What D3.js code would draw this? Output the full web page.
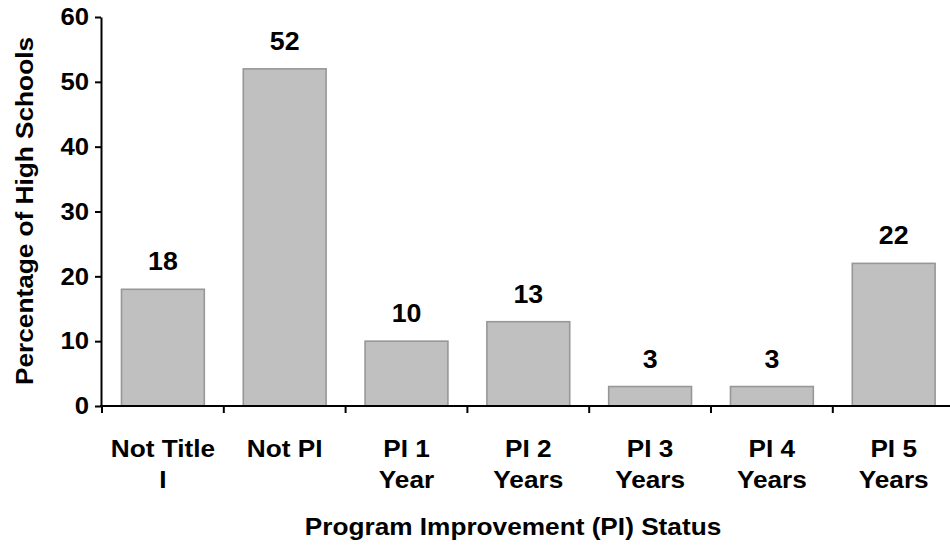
<!DOCTYPE html>
<html>
<head>
<meta charset="utf-8">
<script src="https://cdn.jsdelivr.net/npm/d3@7/dist/d3.min.js"></script>
<style>
  body { margin: 0; background: #fff; }
  svg text { font-family: "Liberation Sans", Arial, sans-serif; font-weight: bold; fill: #000; }
</style>
</head>
<body>
<svg id="chart" width="950" height="548"></svg>
<script>
const categories = [["Not Title", "I"], ["Not PI"], ["PI 1", "Year"], ["PI 2", "Years"], ["PI 3", "Years"], ["PI 4", "Years"], ["PI 5", "Years"]];
const values = [18, 52, 10, 13, 3, 3, 22];
const yTicks = [0, 10, 20, 30, 40, 50, 60];
const yTitle = "Percentage of High Schools";
const xTitle = "Program Improvement (PI) Status";

const svg = d3.select("#chart");
const plotLeft = 102, step = 121.8, plotTop = 17, plotBottom = 406;
const sx = 1.07;
const keys = categories.map((c, i) => i);

const x = d3.scaleBand().domain(keys).range([plotLeft, plotLeft + step * keys.length]).padding(0);
const y = d3.scaleLinear().domain([0, 60]).range([plotBottom, plotTop]);
const barW = x.bandwidth() * 0.68;

// bars
svg.append("g").selectAll("rect").data(values).join("rect")
  .attr("x", (d, i) => x(i) + (x.bandwidth() - barW) / 2)
  .attr("y", d => y(d))
  .attr("width", barW)
  .attr("height", d => y(0) - y(d))
  .attr("fill", "#c0c0c0")
  .attr("stroke", "#979797")
  .attr("stroke-width", 1.6);

// value labels
svg.append("g").selectAll("text").data(values).join("text")
  .attr("transform", (d, i) => `translate(${x(i) + x.bandwidth() / 2},${y(d) - 19}) scale(${sx},1)`)
  .attr("text-anchor", "middle")
  .style("font-size", "25px")
  .text(d => d);

// y axis
const yAxis = d3.axisLeft(y).tickValues(yTicks).tickSize(6).tickPadding(7).tickSizeOuter(0);
const gy = svg.append("g").attr("transform", `translate(${plotLeft - 1},0)`).call(yAxis);
gy.select(".domain").attr("stroke", "#000").attr("stroke-width", 2);
gy.selectAll(".tick line").attr("stroke", "#000").attr("stroke-width", 2);
gy.selectAll(".tick text")
  .attr("x", null)
  .attr("transform", `translate(-12,0) scale(${sx},1)`)
  .style("font-size", "24px").style("font-family", "Liberation Sans, Arial, sans-serif").style("font-weight", "bold").attr("fill", "#000");

// x axis line and boundary ticks
svg.append("line")
  .attr("x1", plotLeft - 2).attr("x2", 950)
  .attr("y1", y(0)).attr("y2", y(0))
  .attr("stroke", "#000").attr("stroke-width", 2);
const bounds = keys.map(i => x(i)).concat([x(keys.length - 1) + x.bandwidth()]);
svg.append("g").selectAll("line").data(bounds).join("line")
  .attr("x1", d => d).attr("x2", d => d)
  .attr("y1", y(0)).attr("y2", y(0) + 7)
  .attr("stroke", "#000").attr("stroke-width", 2);

// category labels
const cl = svg.append("g").selectAll("text").data(categories).join("text")
  .attr("transform", (d, i) => `translate(${x(i) + x.bandwidth() / 2},0) scale(${sx},1)`)
  .attr("text-anchor", "middle")
  .style("font-size", "24.5px");
cl.each(function(lines, i) {
  const t = d3.select(this);
  lines.forEach((ln, j) => {
    t.append("tspan")
      .attr("x", 0)
      .attr("y", 457 + j * 31.5)
      .text(ln);
  });
});

// axis titles
svg.append("text")
  .attr("transform", `translate(513,535) scale(${sx},1)`)
  .attr("text-anchor", "middle")
  .style("font-size", "24.5px")
  .text(xTitle);

svg.append("text")
  .attr("transform", `translate(33,211) rotate(-90) scale(${sx},1)`)
  .attr("text-anchor", "middle")
  .style("font-size", "24.5px")
  .text(yTitle);
</script>
</body>
</html>
